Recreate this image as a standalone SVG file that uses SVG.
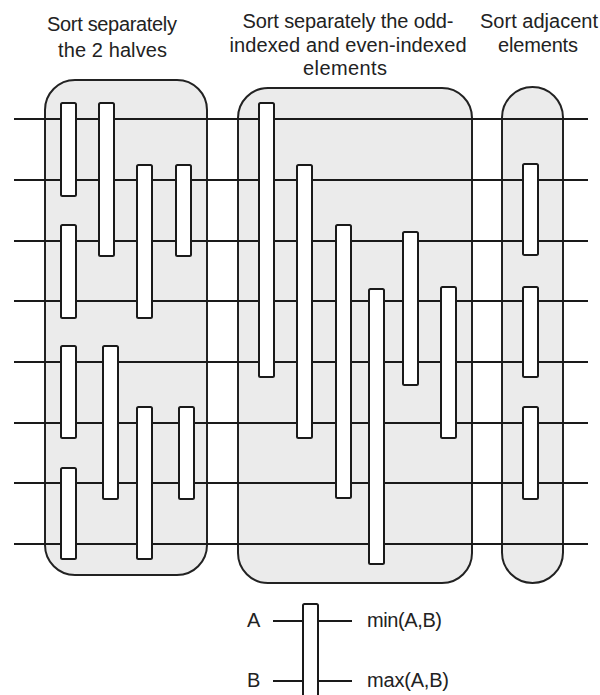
<svg xmlns="http://www.w3.org/2000/svg" width="600" height="695" viewBox="0 0 600 695">
<style>
.box{fill:#ebebeb;stroke:#222;stroke-width:2}
.wire{stroke:#1a1a1a;stroke-width:2;fill:none}
.cmp{fill:#fff;stroke:#1a1a1a;stroke-width:2}
.t{font-family:"Liberation Sans",Arial,sans-serif;font-size:20px;fill:#222}
.m{text-anchor:middle}
</style>
<rect width="600" height="695" fill="#fff"/>
<g id="titles">
<text class="t m" x="112" y="31" textLength="130" lengthAdjust="spacing">Sort separately</text>
<text class="t m" x="112.5" y="57" textLength="109" lengthAdjust="spacing">the 2 halves</text>
<text class="t m" x="348" y="28" textLength="211" lengthAdjust="spacing">Sort separately the odd-</text>
<text class="t m" x="348" y="52" textLength="237" lengthAdjust="spacing">indexed and even-indexed</text>
<text class="t m" x="345" y="75" textLength="84" lengthAdjust="spacing">elements</text>
<text class="t m" x="539" y="28" textLength="118" lengthAdjust="spacing">Sort adjacent</text>
<text class="t m" x="538" y="52" textLength="80" lengthAdjust="spacing">elements</text>
</g>
<g id="box-halves"><rect class="box" x="45" y="80" width="162" height="495" rx="30"/></g>
<g id="box-oddeven"><rect class="box" x="238" y="88" width="234" height="495" rx="30"/></g>
<g id="box-adjacent"><rect class="box" x="502" y="87" width="61" height="496" rx="30.5"/></g>
<g id="wires">
<line class="wire" x1="14" y1="119" x2="588" y2="119"/>
<line class="wire" x1="14" y1="180" x2="588" y2="180"/>
<line class="wire" x1="14" y1="241" x2="588" y2="241"/>
<line class="wire" x1="14" y1="301" x2="588" y2="301"/>
<line class="wire" x1="14" y1="362" x2="588" y2="362"/>
<line class="wire" x1="14" y1="423" x2="588" y2="423"/>
<line class="wire" x1="14" y1="483" x2="588" y2="483"/>
<line class="wire" x1="14" y1="544" x2="588" y2="544"/>
<line class="wire" x1="273" y1="621" x2="303" y2="621"/>
<line class="wire" x1="319" y1="621" x2="352" y2="621"/>
<line class="wire" x1="273" y1="681" x2="303" y2="681"/>
<line class="wire" x1="319" y1="681" x2="352" y2="681"/>
</g>
<g id="c1"><rect class="cmp" x="61" y="103" width="15" height="93" rx="1.5"/></g>
<g id="c2"><rect class="cmp" x="99" y="103" width="15" height="153" rx="1.5"/></g>
<g id="c3"><rect class="cmp" x="137" y="165" width="15" height="153" rx="1.5"/></g>
<g id="c4"><rect class="cmp" x="176" y="165" width="15" height="91" rx="1.5"/></g>
<g id="c5"><rect class="cmp" x="61" y="225" width="15" height="93" rx="1.5"/></g>
<g id="c6"><rect class="cmp" x="61" y="346" width="15" height="92" rx="1.5"/></g>
<g id="c7"><rect class="cmp" x="103" y="346" width="15" height="153" rx="1.5"/></g>
<g id="c8"><rect class="cmp" x="137" y="407" width="15" height="152" rx="1.5"/></g>
<g id="c9"><rect class="cmp" x="179" y="407" width="15" height="92" rx="1.5"/></g>
<g id="c10"><rect class="cmp" x="61" y="468" width="15" height="91" rx="1.5"/></g>
<g id="m1"><rect class="cmp" x="259" y="103" width="15" height="274" rx="1.5"/></g>
<g id="m2"><rect class="cmp" x="297" y="165" width="15" height="273" rx="1.5"/></g>
<g id="m3"><rect class="cmp" x="336" y="225" width="15" height="273" rx="1.5"/></g>
<g id="m4"><rect class="cmp" x="369" y="289" width="15" height="275" rx="1.5"/></g>
<g id="m5"><rect class="cmp" x="403" y="232" width="15" height="153" rx="1.5"/></g>
<g id="m6"><rect class="cmp" x="441" y="287" width="15" height="151" rx="1.5"/></g>
<g id="r1"><rect class="cmp" x="523" y="164" width="15" height="91" rx="1.5"/></g>
<g id="r2"><rect class="cmp" x="523" y="287" width="15" height="90" rx="1.5"/></g>
<g id="r3"><rect class="cmp" x="523" y="407" width="15" height="92" rx="1.5"/></g>
<g id="legend">
<rect class="cmp" x="303" y="604" width="15" height="120" rx="1.5"/>
<text class="t" x="247" y="627">A</text>
<text class="t" x="247" y="687">B</text>
<text class="t" x="367" y="627" textLength="75" lengthAdjust="spacing">min(A,B)</text>
<text class="t" x="367" y="687" textLength="82" lengthAdjust="spacing">max(A,B)</text>
</g>
</svg>
